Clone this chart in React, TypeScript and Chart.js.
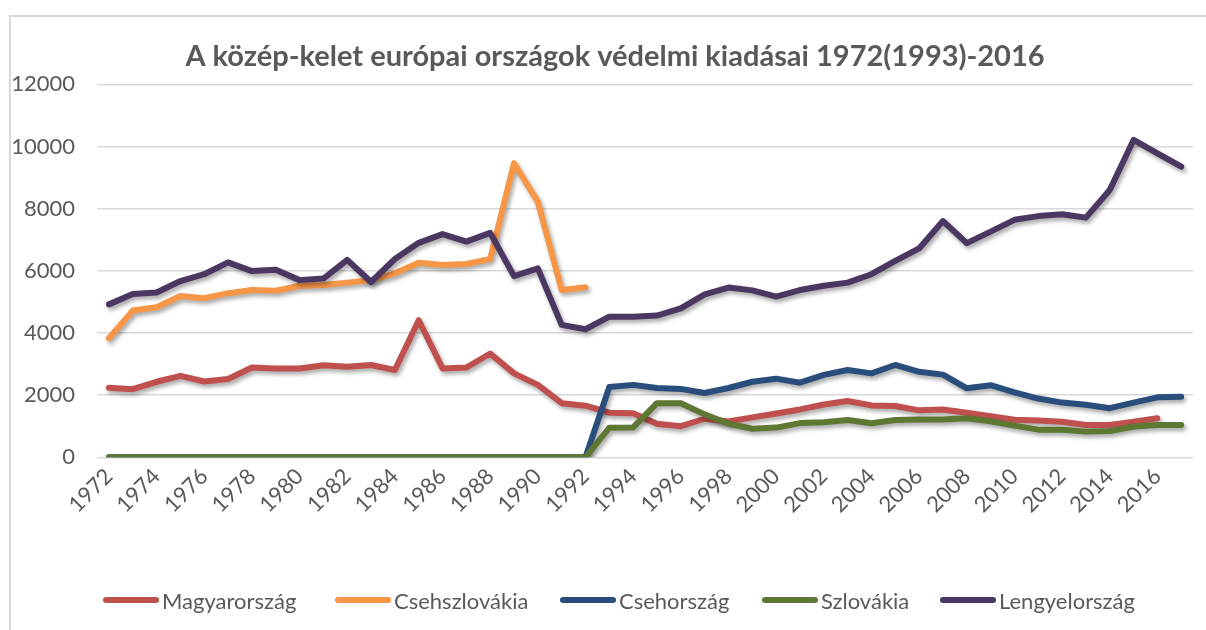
import React, { useEffect, useRef } from "react";
import { Chart, registerables } from "chart.js";

Chart.register(...registerables);

const years = [
  "1972", "1973", "1974", "1975", "1976", "1977", "1978", "1979", "1980", "1981",
  "1982", "1983", "1984", "1985", "1986", "1987", "1988", "1989", "1990", "1991",
  "1992", "1993", "1994", "1995", "1996", "1997", "1998", "1999", "2000", "2001",
  "2002", "2003", "2004", "2005", "2006", "2007", "2008", "2009", "2010", "2011",
  "2012", "2013", "2014", "2015", "2016", "2017",
];

const magyarorszag = [
  2240, 2190, 2430, 2620, 2440, 2520, 2890, 2860, 2860, 2960,
  2910, 2970, 2810, 4410, 2860, 2890, 3340, 2700, 2330, 1740,
  1660, 1435, 1415, 1080, 1000, 1240, 1150, 1285, 1410, 1540,
  1700, 1810, 1670, 1650, 1510, 1535, 1435, 1320, 1210, 1185,
  1145, 1040, 1040, 1147, 1255, null,
];

const csehszlovakia = [
  3830, 4720, 4830, 5190, 5120, 5280, 5380, 5360, 5520, 5540,
  5620, 5700, 5920, 6260, 6190, 6220, 6380, 9460, 8220, 5380,
  5470, null, null, null, null, null, null, null, null, null,
  null, null, null, null, null, null, null, null, null, null,
  null, null, null, null, null, null,
];

const csehorszag = [
  0, 0, 0, 0, 0, 0, 0, 0, 0, 0,
  0, 0, 0, 0, 0, 0, 0, 0, 0, 0,
  0, 2260, 2330, 2230, 2200, 2070, 2230, 2430, 2530, 2400,
  2650, 2810, 2700, 2970, 2750, 2660, 2220, 2320, 2090, 1890,
  1760, 1690, 1580, 1760, 1930, 1950,
];

const szlovakia = [
  0, 0, 0, 0, 0, 0, 0, 0, 0, 0,
  0, 0, 0, 0, 0, 0, 0, 0, 0, 0,
  0, 952, 960, 1740, 1737, 1380, 1080, 920, 955, 1100,
  1130, 1200, 1094, 1200, 1220, 1220, 1253, 1160, 1020, 890,
  890, 826, 847, 990, 1040, 1040,
];

const lengyelorszag = [
  4920, 5250, 5300, 5670, 5890, 6270, 5990, 6030, 5700, 5750,
  6350, 5640, 6380, 6900, 7180, 6940, 7220, 5830, 6080, 4260,
  4120, 4525, 4525, 4560, 4790, 5240, 5460, 5370, 5170, 5380,
  5520, 5620, 5890, 6320, 6720, 7600, 6890, 7260, 7640, 7760,
  7820, 7710, 8600, 10210, 9780, 9350,
];

const seriesNames = ["Magyarország", "Csehszlovákia", "Csehország", "Szlovákia", "Lengyelország"];
const seriesColors = ["#C0504D", "#F79646", "#2A4E7B", "#5E7732", "#4A3862"];
const seriesValues = [magyarorszag, csehszlovakia, csehorszag, szlovakia, lengyelorszag];

const titleText = "A közép-kelet európai országok védelmi kiadásai 1972(1993)-2016";
const yTicks = [0, 2000, 4000, 6000, 8000, 10000, 12000];

const FONT = "Lato, 'Open Sans', sans-serif";
const TEXT_COLOR = "#595959";

const legendLeft = [103, 335, 560, 762, 940];

const shadowPlugin = {
  id: "lineShadow",
  beforeDatasetDraw(chart: any) {
    const ctx = chart.ctx;
    ctx.save();
    ctx.shadowColor = "rgba(0,0,0,0.35)";
    ctx.shadowBlur = 4;
    ctx.shadowOffsetX = 2;
    ctx.shadowOffsetY = 3;
  },
  afterDatasetDraw(chart: any) {
    chart.ctx.restore();
  },
};

const titlePlugin = {
  id: "customTitle",
  afterDraw(chart: any) {
    const ctx = chart.ctx;
    ctx.save();
    ctx.font = `bold 29px ${FONT}`;
    ctx.fillStyle = TEXT_COLOR;
    ctx.textAlign = "center";
    ctx.textBaseline = "middle";
    ctx.fillText(titleText, 615, 57);
    ctx.restore();
  },
};

export default function App() {
  const canvasRef = useRef<HTMLCanvasElement | null>(null);

  useEffect(() => {
    if (!canvasRef.current) return;
    const datasets = seriesNames.map((name, i) => ({
      label: name,
      data: seriesValues[i],
      borderColor: seriesColors[i],
      backgroundColor: seriesColors[i],
      borderWidth: 6,
      pointRadius: 0,
      pointHoverRadius: 0,
      tension: 0,
      fill: false,
      spanGaps: false,
      borderCapStyle: "round" as const,
      borderJoinStyle: "round" as const,
      order: seriesNames.length - 1 - i,
    }));

    const chart = new Chart(canvasRef.current, {
      type: "line",
      data: { labels: years, datasets },
      plugins: [shadowPlugin, titlePlugin],
      options: {
        animation: false,
        responsive: true,
        maintainAspectRatio: false,
        layout: { padding: { left: 0, right: 11, top: 84.3, bottom: 0 } },
        plugins: {
          legend: { display: false },
          tooltip: { enabled: false },
          title: { display: false },
        },
        scales: {
          x: {
            offset: true,
            grid: { display: false, drawTicks: false },
            border: { display: false },
            ticks: {
              autoSkip: false,
              maxRotation: 45,
              minRotation: 45,
              padding: 6,
              color: TEXT_COLOR,
              font: { family: FONT, size: 22 },
              callback: (_v: any, idx: number) => (idx % 2 === 0 ? years[idx] : ""),
            },
            afterFit: (s: any) => {
              s.height = 172.7;
            },
          },
          y: {
            min: 0,
            max: 12000,
            afterBuildTicks: (s: any) => {
              s.ticks = yTicks.map((v) => ({ value: v }));
            },
            grid: { color: "#D9D9D9", lineWidth: 1.5, drawTicks: false },
            border: { display: false },
            ticks: {
              padding: 22,
              color: TEXT_COLOR,
              font: { family: FONT, size: 22 },
              callback: (v: any) => String(v),
            },
            afterFit: (s: any) => {
              s.width = 97;
            },
          },
        },
      },
    });
    return () => chart.destroy();
  }, []);

  return (
    <div style={{ position: "absolute", left: 0, top: 0, width: 1206, height: 630, background: "#fff", overflow: "hidden" }}>
      <div
        style={{
          position: "absolute",
          left: 9,
          top: 15,
          width: 1300,
          height: 700,
          borderLeft: "2px solid #D9D9D9",
          borderTop: "2px solid #D9D9D9",
        }}
      />
      <div style={{ position: "absolute", left: 0, top: 0, width: 1206, height: 630 }}>
        <canvas ref={canvasRef} />
      </div>
      {seriesNames.map((name, i) => (
        <div
          key={name}
          style={{
            position: "absolute",
            left: legendLeft[i],
            top: 586,
            height: 28,
            display: "flex",
            alignItems: "center",
            fontFamily: FONT,
            fontSize: 22,
            color: TEXT_COLOR,
            whiteSpace: "nowrap",
          }}
        >
          <span
            style={{
              display: "inline-block",
              width: 56,
              height: 6,
              borderRadius: 3,
              background: seriesColors[i],
              marginRight: 3,
            }}
          />
          <span>{name}</span>
        </div>
      ))}
    </div>
  );
}
